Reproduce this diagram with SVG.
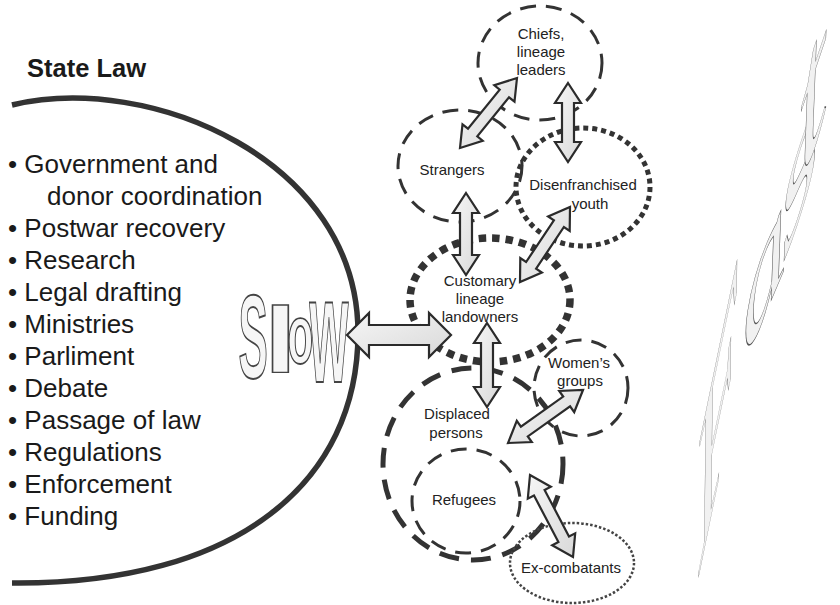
<svg xmlns="http://www.w3.org/2000/svg" width="840" height="605" viewBox="0 0 840 605">
<defs>
<linearGradient id="ag" x1="0" y1="0" x2="1" y2="1">
<stop offset="0" stop-color="#f6f6f6"/><stop offset="1" stop-color="#d9d9d9"/>
</linearGradient>
<style>
.list{font-family:"Liberation Sans",Arial,sans-serif;font-size:26px;fill:#1a1a1a}
.title{font-family:"Liberation Sans",Arial,sans-serif;font-size:25.5px;font-weight:bold;fill:#1a1a1a}
.lbl{font-family:"Liberation Sans",Arial,sans-serif;font-size:15px;fill:#222;text-anchor:middle}
.d1{fill:none;stroke:#333;stroke-width:3;stroke-dasharray:16 10}
.d2{fill:none;stroke:#333;stroke-width:5;stroke-dasharray:20 12}
.dot1{fill:none;stroke:#333;stroke-width:5;stroke-dasharray:5 4}
.dot2{fill:none;stroke:#333;stroke-width:7.5;stroke-dasharray:7.5 6}
.dot3{fill:none;stroke:#444;stroke-width:2.5;stroke-dasharray:2.5 2}
.arr{fill:url(#ag);stroke:#2b2b2b;stroke-width:2.2;stroke-linejoin:miter}
.slow{font-family:"Liberation Sans",Arial,sans-serif;font-weight:bold;font-size:100px;fill:#f6f6f6;stroke:#444;stroke-width:1.5}
.fast{font-family:"Liberation Serif","Times New Roman",serif;font-style:italic;font-size:100px;fill:#f1f1f1;stroke:#555;stroke-width:1.2}
</style>
</defs>
<rect width="840" height="605" fill="#fff"/>

<g id="state-law">
<path d="M12,105 C150,72 358,160 358,333 C358,480 240,585 12,583" fill="none" stroke="#333" stroke-width="5.5"/>
<text class="title" x="27" y="77">State Law</text>
<text class="list" x="8" y="173">• Government and</text>
<text class="list" x="47" y="205">donor coordination</text>
<text class="list" x="8" y="237">• Postwar recovery</text>
<text class="list" x="8" y="269">• Research</text>
<text class="list" x="8" y="301">• Legal drafting</text>
<text class="list" x="8" y="333">• Ministries</text>
<text class="list" x="8" y="365">• Parliment</text>
<text class="list" x="8" y="397">• Debate</text>
<text class="list" x="8" y="429">• Passage of law</text>
<text class="list" x="8" y="461">• Regulations</text>
<text class="list" x="8" y="493">• Enforcement</text>
<text class="list" x="8" y="525">• Funding</text>
</g>

<g id="slow-label">
<text class="slow" transform="translate(238.5,378) scale(0.44,1.19)"><tspan vector-effect="non-scaling-stroke">S</tspan></text>
<text class="slow" transform="translate(264.5,372) scale(1.15,0.92)"><tspan vector-effect="non-scaling-stroke">l</tspan></text>
<text class="slow" transform="translate(287.5,363) scale(0.42,0.84)"><tspan vector-effect="non-scaling-stroke">o</tspan></text>
<text class="slow" transform="translate(309.5,382) scale(0.5,1.5)"><tspan vector-effect="non-scaling-stroke">w</tspan></text>
</g>

<g id="fast-label">
<text class="fast" transform="matrix(0.72,-3.5,0.1,1.5,699,575)"><tspan vector-effect="non-scaling-stroke">F</tspan></text>
<text class="fast" transform="matrix(0.88,-2.07,0.1,1.2,745,362)"><tspan vector-effect="non-scaling-stroke">a</tspan></text>
<text class="fast" transform="matrix(0.97,-2.95,0.1,1.2,783,267)"><tspan vector-effect="non-scaling-stroke">s</tspan></text>
<text class="fast" transform="matrix(1.0,-2.96,0.1,1.5,801,187)"><tspan vector-effect="non-scaling-stroke">t</tspan></text>
</g>

<g id="chiefs">
<ellipse class="d1" cx="540" cy="63" rx="62" ry="57"/>
<text class="lbl" x="541" y="39">Chiefs,</text>
<text class="lbl" x="541" y="57">lineage</text>
<text class="lbl" x="541" y="75">leaders</text>
</g>
<g id="strangers">
<ellipse class="d1" cx="460" cy="166" rx="62" ry="56"/>
<text class="lbl" x="452" y="175">Strangers</text>
</g>
<g id="disenfranchised-youth">
<ellipse class="dot1" cx="583" cy="187" rx="67" ry="59"/>
<text class="lbl" x="583" y="190">Disenfranchised</text>
<text class="lbl" x="590" y="209">youth</text>
</g>
<g id="customary">
<ellipse class="dot2" cx="490" cy="300" rx="80" ry="62"/>
<text class="lbl" x="480" y="286">Customary</text>
<text class="lbl" x="480" y="304">lineage</text>
<text class="lbl" x="480" y="322">landowners</text>
</g>
<g id="displaced">
<ellipse class="d2" cx="473" cy="464" rx="90" ry="96"/>
<text class="lbl" x="457" y="419">Displaced</text>
<text class="lbl" x="456" y="438">persons</text>
</g>
<g id="refugees">
<ellipse class="d1" cx="466" cy="501" rx="54" ry="52"/>
<text class="lbl" x="464" y="505">Refugees</text>
</g>
<g id="womens-groups">
<ellipse class="d1" cx="581" cy="388" rx="47" ry="48"/>
<text class="lbl" x="579" y="368">Women’s</text>
<text class="lbl" x="580" y="386">groups</text>
</g>
<g id="ex-combatants">
<ellipse class="dot3" cx="572" cy="563" rx="62" ry="40"/>
<text class="lbl" x="571" y="573">Ex-combatants</text>
</g>

<g id="connectors">
<polygon class="arr" points="347,335 369,313 369,325 429,325 429,313 451,335 429,357 429,345 369,345 369,357"/>
<polygon class="arr" points="517,78 514.5,101.7 509,97.3 477.3,136.3 482.7,140.7 460,148 462.5,124.3 468,128.7 499.7,89.7 494.3,85.3"/>
<polygon class="arr" points="568,83 581,103 574,103 574,142 581,142 568,162 555,142 562,142 562,103 555,103"/>
<polygon class="arr" points="466,193 479,213 472,213 472,255 479,255 466,275 453,255 460,255 460,213 453,213"/>
<polygon class="arr" points="570,207 569.7,230.9 563.9,227 536.1,268.7 541.9,272.6 520,282 520.3,258.1 526.1,262 553.9,220.3 548.1,216.4"/>
<polygon class="arr" points="487,323 500,343 493,343 493,387 500,387 487,407 474,387 481,387 481,343 474,343"/>
<polygon class="arr" points="583,390 574.2,412.2 570.1,406.4 527.8,436.4 531.8,442.1 508,443 516.8,420.8 520.9,426.6 563.2,396.6 559.2,390.9"/>
<polygon class="arr" points="530,475 550.8,486.7 544.6,489.9 569,536.5 575.2,533.3 573,557 552.2,545.3 558.4,542.1 534,495.5 527.8,498.7"/>
</g>
</svg>
